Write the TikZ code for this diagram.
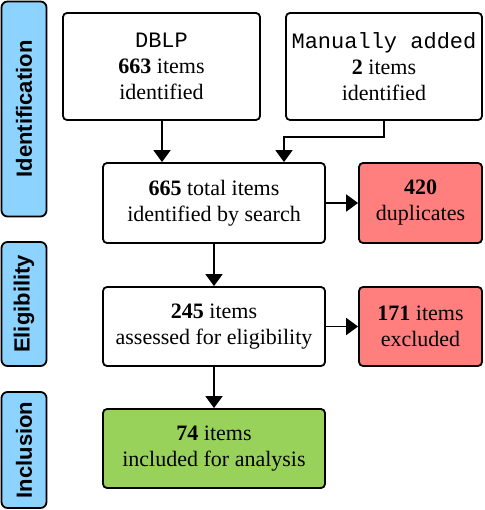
\documentclass[tikz,border=0pt]{standalone}
\usepackage{fontspec}
\setmainfont{Liberation Serif}
\setmonofont{Liberation Mono}
\setsansfont{Liberation Sans}
\usetikzlibrary{arrows.meta}
\definecolor{barblue}{RGB}{141,211,255}
\definecolor{boxred}{RGB}{255,127,127}
\definecolor{boxgreen}{RGB}{153,210,90}
\tikzset{
  x=1pt, y=1pt,
  box/.style={draw=black, line width=1.8pt, rounded corners=4pt, align=center, inner sep=0pt,
    font=\fontsize{22}{26}\selectfont, text=black},
  bar/.style={draw=black, line width=1.8pt, rounded corners=6pt, fill=barblue, inner sep=0pt,
    minimum width=45pt, font=\sffamily\bfseries\fontsize{22}{26}\selectfont, rotate=90},
  arr/.style={line width=1.8pt, -{Triangle[length=12pt,width=17pt]}}
}
\begin{document}
\begin{tikzpicture}
\useasboundingbox (0,0) rectangle (484,-510);
% side bars
\node[bar, minimum height=45pt, minimum width=215pt] (idb) at (24,-109) {Identification};
\node[bar, minimum height=45pt, minimum width=124pt] (elb) at (24,-304) {Eligibility};
\node[bar, minimum height=45pt, minimum width=116pt] (inb) at (24,-450) {Inclusion};
% boxes
\node[box, minimum width=197pt, minimum height=107pt] (dblp) at (161.5,-66.5)
  {\texttt{DBLP}\\\textbf{663} items\\identified};
\node[box, minimum width=196pt, minimum height=107pt] (man) at (384,-66.5)
  {\texttt{Manually added}\\\textbf{2} items\\identified};
\node[box, minimum width=222pt, minimum height=80pt] (tot) at (214,-203)
  {\textbf{665} total items\\identified by search};
\node[box, fill=boxred, minimum width=123pt, minimum height=80pt] (dup) at (420.5,-203)
  {\textbf{420}\\duplicates};
\node[box, minimum width=222pt, minimum height=79pt] (eli) at (214,-326.5)
  {\textbf{245} items\\assessed for eligibility};
\node[box, fill=boxred, minimum width=123pt, minimum height=79pt] (exc) at (420.5,-326.5)
  {\textbf{171} items\\excluded};
\node[box, fill=boxgreen, minimum width=222pt, minimum height=79pt] (inc) at (214,-448.5)
  {\textbf{74} items\\included for analysis};
% connectors
\coordinate (m1) at (384,-137);
\coordinate (m2) at (284,-137);
\draw[arr] (dblp.south -| 162,0) -- (tot.north -| 162,0);
\draw[arr] (man.south) -- (m1) -- (m2) -- (tot.north -| m2);
\draw[arr] (tot.east) -- (dup.west);
\draw[arr] (tot.south) -- (eli.north);
\draw[arr] (eli.east) -- (exc.west);
\draw[arr] (eli.south) -- (inc.north);
\end{tikzpicture}
\end{document}
